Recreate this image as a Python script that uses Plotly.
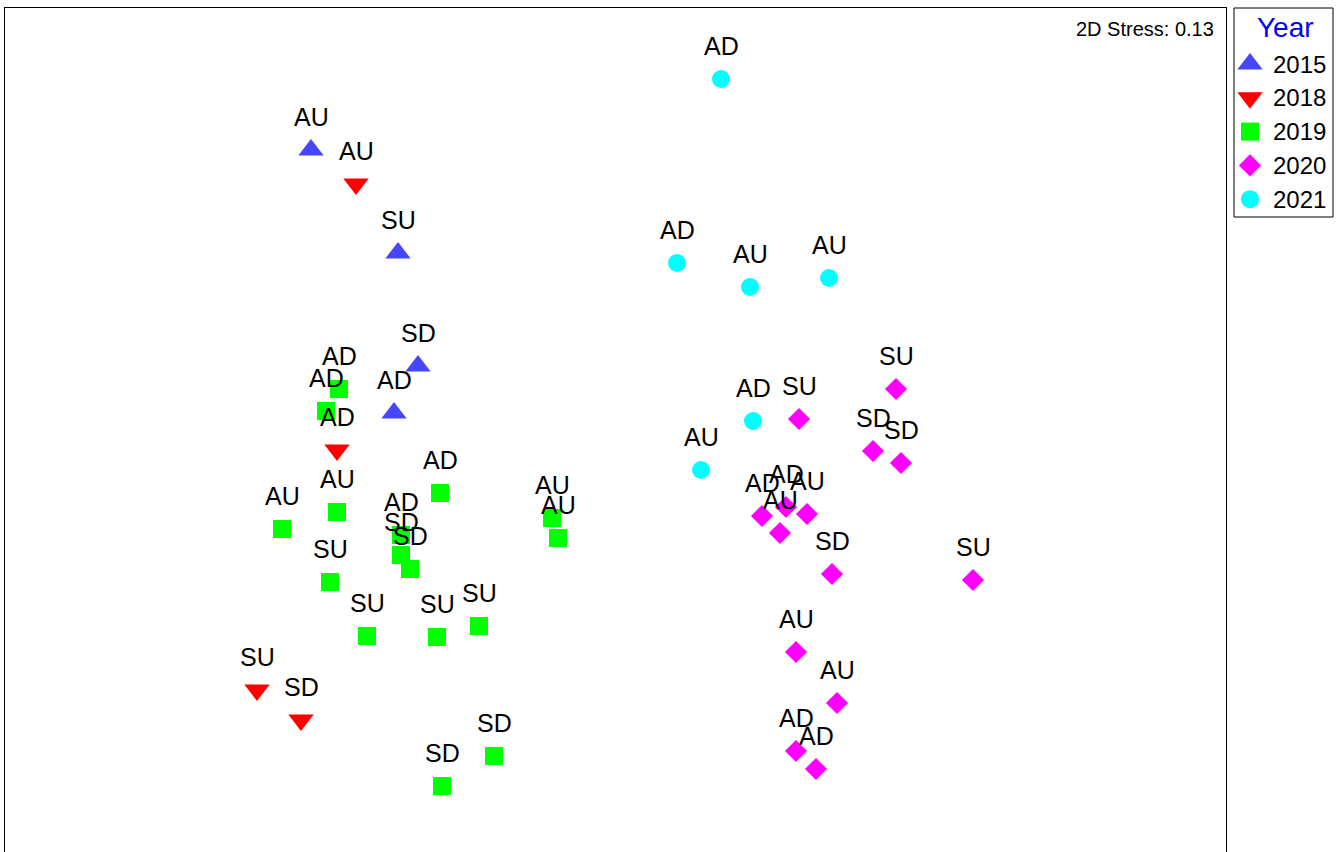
import plotly.graph_objects as go

# NMDS ordination scores (MDS1, MDS2) per sample, grouped by year
years = ["2015", "2018", "2019", "2020", "2021"]

mds1_2015 = [-0.7625, -0.545, -0.495, -0.555]
mds2_2015 = [0.70, 0.4425, 0.16, 0.0425]
site_2015 = ["AU", "SU", "SD", "AD"]

mds1_2018 = [-0.65, -0.6975, -0.8975, -0.7875]
mds2_2018 = [0.615, -0.05, -0.65, -0.725]
site_2018 = ["AU", "AD", "SU", "SD"]

mds1_2019 = [-0.6925, -0.725, -0.6975, -0.835, -0.44, -0.5375, -0.5375, -0.515,
             -0.715, -0.6225, -0.4475, -0.3425, -0.16, -0.145, -0.305, -0.435]
mds2_2019 = [0.1025, 0.0475, -0.205, -0.2475, -0.1575, -0.2625, -0.3125, -0.3475,
             -0.38, -0.515, -0.5175, -0.49, -0.22, -0.27, -0.815, -0.89]
site_2019 = ["AD", "AD", "AU", "AU", "AD", "AD", "SD", "SD",
             "SU", "SU", "SU", "SU", "AU", "AU", "SD", "SD"]

mds1_2020 = [0.70, 0.4575, 0.6425, 0.7125, 0.365, 0.425, 0.4775, 0.41,
             0.54, 0.8925, 0.45, 0.5525, 0.45, 0.50]
mds2_2020 = [0.1025, 0.0275, -0.0525, -0.0825, -0.215, -0.1925, -0.21, -0.2575,
             -0.36, -0.375, -0.555, -0.6825, -0.8025, -0.8475]
site_2020 = ["SU", "SU", "SD", "SD", "AD", "AD", "AU", "AU",
             "SD", "SU", "AU", "AU", "AD", "AD"]

mds1_2021 = [0.2625, 0.1525, 0.335, 0.5325, 0.3425, 0.2125]
mds2_2021 = [0.8775, 0.4175, 0.3575, 0.38, 0.0225, -0.10]
site_2021 = ["AD", "AD", "AU", "AU", "AD", "AU"]

stress = 0.13

groups = [
    ("2015", mds1_2015, mds2_2015, site_2015, "triangle-up", "#4646FF", 22),
    ("2018", mds1_2018, mds2_2018, site_2018, "triangle-down", "#FF0000", 22),
    ("2019", mds1_2019, mds2_2019, site_2019, "square", "#00FF00", 18),
    ("2020", mds1_2020, mds2_2020, site_2020, "diamond", "#FF00FF", 17),
    ("2021", mds1_2021, mds2_2021, site_2021, "circle", "#00FFFF", 18),
]

FONT = "Liberation Sans, Arial, sans-serif"

# Figure geometry: main panel on the left, a small key panel on the right
W, H = 1342, 852
ML, MT = 5, 8
PW, PH = W - ML, H - MT
panel_right = 1226
key_left, key_right, key_bottom = 1234, 1333, 217

main_dom_x = [0, (panel_right - ML) / PW]
key_dom_x = [(key_left - ML) / PW, (key_right - ML) / PW]
key_dom_y = [(H - key_bottom) / PH, 1]
key_w, key_h = key_right - key_left, key_bottom - MT

fig = go.Figure()
annotations = []
for name, xs, ys, sites, symbol, color, size in groups:
    fig.add_trace(go.Scatter(
        x=xs, y=ys, mode="markers", name=name, showlegend=False,
        marker=dict(symbol=symbol, color=color, size=size, opacity=1,
                    line=dict(width=0)),
    ))
    for x, y, s in zip(xs, ys, sites):
        annotations.append(dict(
            x=x, y=y, xref="x", yref="y", text=s, showarrow=False,
            yshift=33, font=dict(family=FONT, size=25, color="black"),
        ))

annotations.append(dict(
    x=0.9918, y=0.9751, xref="x domain", yref="y domain",
    xanchor="right", yanchor="middle", showarrow=False,
    text=f"2D Stress: {stress:.2f}",
    font=dict(family=FONT, size=20, color="black"),
))

# Key: title, one symbol and label per year
key_row0, key_step = 56, 33.8
key_rows = [key_row0 + i * key_step for i in range(len(groups))]
fig.add_trace(go.Scatter(
    x=[16] * len(groups), y=key_rows, xaxis="x2", yaxis="y2",
    mode="markers", showlegend=False, hoverinfo="skip",
    marker=dict(symbol=[g[4] for g in groups], color=[g[5] for g in groups],
                size=[g[6] for g in groups], opacity=1, line=dict(width=0)),
))
for g, ry in zip(groups, key_rows):
    annotations.append(dict(
        x=37, y=ry, xref="x2", yref="y2", xanchor="left", yanchor="middle",
        text=g[0], showarrow=False, font=dict(family=FONT, size=24, color="black"),
    ))
annotations.append(dict(
    x=key_w / 2 + 2, y=19, xref="x2", yref="y2", xanchor="center", yanchor="middle",
    text="Year", showarrow=False, font=dict(family=FONT, size=28, color="#0000FF"),
))

fig.update_layout(
    width=W, height=H,
    margin=dict(l=ML, r=0, t=MT, b=0),
    paper_bgcolor="white", plot_bgcolor="white",
    font=dict(family=FONT, color="black"),
    annotations=annotations,
    shapes=[dict(type="rect", xref="x2 domain", yref="y2 domain",
                 x0=0, x1=1, y0=0, y1=1, line=dict(color="black", width=1))],
    showlegend=False,
    xaxis=dict(domain=main_dom_x, range=[-1.5275, 1.525], side="top", showline=True,
               linecolor="black", linewidth=1, mirror=False, showgrid=False,
               zeroline=False, showticklabels=False, ticks=""),
    yaxis=dict(range=[-1.055, 1.055], showline=True, linecolor="black",
               linewidth=1, mirror=True, showgrid=False, zeroline=False,
               showticklabels=False, ticks=""),
    xaxis2=dict(domain=key_dom_x, range=[0, key_w], anchor="y2", visible=False,
                fixedrange=True),
    yaxis2=dict(domain=key_dom_y, range=[key_h, 0], anchor="x2", visible=False,
                fixedrange=True),
)

fig.write_html("out.html")
